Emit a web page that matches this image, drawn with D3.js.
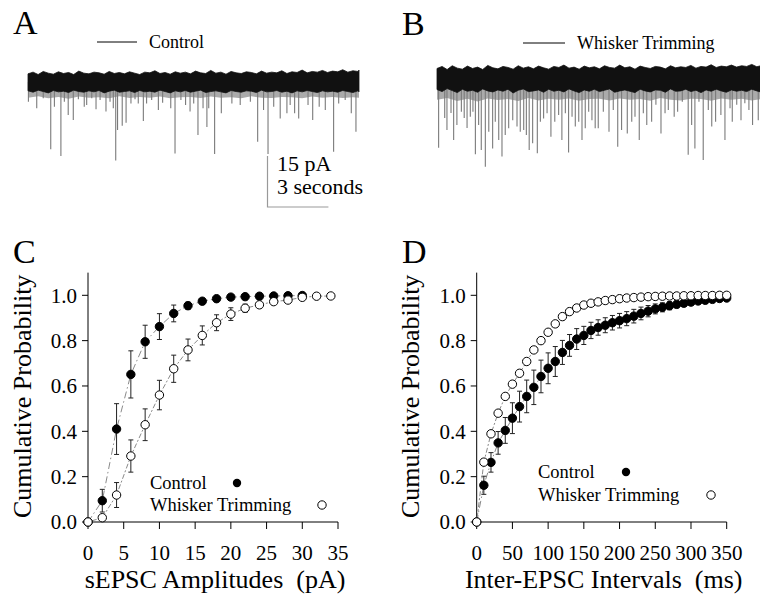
<!DOCTYPE html>
<html><head><meta charset="utf-8">
<script src="https://cdn.jsdelivr.net/npm/d3@7"></script>
<style>
body{margin:0;background:#fff}
text{font-family:"Liberation Serif","Times New Roman",serif;fill:#000}
</style>
</head><body><svg id="chart" width="760" height="601"></svg>
<script>
// ---------- Panel A / B : current traces (time s, current pA) ----------
const envDt = 0.25; // envelope sampling interval (s)
const envTopA = [2.4,2.9,2.2,3.1,2.6,2.3,3.0,2.5,2.8,2.2,3.2,2.6,2.4,2.9,2.7,2.3,3.1,2.5,2.8,2.4,3.0,2.6,2.2,2.9,2.7,3.3,2.5,2.8,2.3,3.0,2.6,2.9,2.4,3.2,2.7,2.5,3.4,2.6,2.9,2.3,3.1,2.7,2.5,3.0,2.8,2.4,3.2,2.6,2.9,2.7,3.3,2.5,3.0,2.8,3.5,2.7,3.1,2.9,3.4,2.8,3.2,3.0,3.6,2.9,3.3,3.1,3.5];
const envLowA = [-2.6,-3.0,-2.4,-2.8,-3.2,-2.5,-2.9,-2.7,-3.1,-2.4,-2.8,-3.0,-2.6,-2.9,-2.5,-3.2,-2.7,-2.4,-3.0,-2.8,-2.6,-3.1,-2.5,-2.9,-2.7,-3.0,-2.4,-2.8,-3.2,-2.6,-2.9,-2.5,-3.0,-2.7,-2.4,-3.1,-2.8,-2.6,-2.9,-3.2,-2.5,-2.8,-3.0,-2.6,-2.7,-3.1,-2.4,-2.9,-2.8,-2.5,-3.0,-2.7,-3.2,-2.6,-2.9,-2.5,-2.8,-3.1,-2.6,-2.9,-2.7,-3.0,-2.5,-2.8,-3.1,-2.6,-2.9];
const envTopB = [2.8,3.4,2.5,3.6,2.9,2.6,3.5,2.8,3.2,2.5,3.7,3.0,2.7,3.4,3.1,2.6,3.6,2.9,3.3,2.7,3.5,3.0,2.6,3.4,3.1,3.8,2.9,3.2,2.6,3.5,3.0,3.3,2.7,3.6,3.1,2.9,3.8,3.0,3.3,2.6,3.5,3.1,2.8,3.4,3.2,2.7,3.6,3.0,3.3,3.1,3.7,2.9,3.4,3.2,3.9,3.1,3.5,3.3,3.8,3.2,3.6,3.4,4.0,3.3,3.7,3.5,3.9];
const envLowB = [-3.4,-4.0,-3.1,-3.7,-4.3,-3.3,-3.9,-3.6,-4.2,-3.2,-3.8,-4.1,-3.5,-3.9,-3.3,-4.4,-3.6,-3.2,-4.0,-3.8,-3.5,-4.2,-3.3,-3.9,-3.6,-4.1,-3.2,-3.8,-4.3,-3.5,-3.9,-3.3,-4.0,-3.6,-3.2,-4.2,-3.8,-3.5,-3.9,-4.3,-3.3,-3.8,-4.1,-3.5,-3.6,-4.2,-3.2,-3.9,-3.8,-3.3,-4.0,-3.6,-4.3,-3.5,-3.9,-3.3,-3.8,-4.2,-3.5,-3.9,-3.6,-4.0,-3.3,-3.8,-4.2,-3.5,-3.9];
const fringeDt = 0.5;
const envFringeA = [-4.6,-4.2,-4.8,-4.4,-4.9,-4.3,-4.6,-4.5,-4.8,-4.2,-4.7,-4.4,-4.6,-4.3,-4.8,-4.5,-4.4,-4.7,-4.3,-4.6,-4.5,-4.8,-4.2,-4.6,-4.7,-4.4,-4.5,-4.8,-4.3,-4.6,-4.4,-4.7,-4.5,-4.6];
const envFringeB = [-6.4,-5.9,-6.8,-6.1,-6.9,-6.0,-6.5,-6.2,-6.8,-5.9,-6.6,-6.1,-6.4,-6.0,-6.7,-6.2,-6.1,-6.6,-6.0,-6.4,-6.2,-6.7,-5.9,-6.4,-6.6,-6.1,-6.2,-6.7,-6.0,-6.4,-6.1,-6.6,-6.2,-6.4];

const spikeTA = [0.02,0.43,0.75,1.12,1.30,1.62,1.79,1.98,2.23,2.48,2.77,2.89,3.14,3.35,3.55,3.84,4.04,4.20,4.32,4.41,4.64,4.83,5.07,5.27,5.43,5.68,5.84,6.09,6.42,6.63,7.03,7.24,7.53,7.76,7.98,8.16,8.37,8.62,8.81,8.90,9.19,9.52,10.04,10.45,10.95,11.31,11.60,11.82,12.10,12.42,12.75,12.91,13.13,13.33,13.79,14.02,14.34,14.64,15.05,15.30,15.62,15.92,16.15];
const spikeAA = [-5.8,-7.7,-4.8,-19.8,-7.3,-21.8,-5.8,-9.7,-11.2,-5.1,-7.3,-6.8,-4.8,-8.0,-5.3,-8.7,-5.8,-7.7,-23.1,-14.1,-12.9,-12.0,-6.3,-5.1,-6.3,-11.5,-6.3,-5.3,-8.2,-6.1,-7.7,-21.0,-5.3,-6.8,-8.7,-6.3,-15.6,-7.7,-13.2,-7.7,-21.2,-9.2,-6.3,-6.8,-5.8,-17.6,-8.2,-21.2,-7.3,-10.7,-9.2,-6.8,-9.2,-10.7,-6.8,-11.2,-7.3,-8.2,-20.5,-6.3,-5.3,-9.2,-14.6];
const spikeTB = [0.08,0.38,0.49,0.69,0.82,0.98,1.20,1.34,1.48,1.64,1.77,1.89,2.05,2.18,2.38,2.55,2.74,2.87,3.04,3.20,3.36,3.53,3.73,3.94,4.10,4.27,4.40,4.54,4.71,4.94,5.09,5.25,5.42,5.61,5.80,5.99,6.15,6.32,6.48,6.65,6.81,6.98,7.14,7.30,7.47,7.63,7.79,7.94,8.19,8.47,8.68,8.90,9.09,9.37,9.59,9.75,9.96,10.16,10.33,10.57,10.78,11.03,11.23,11.39,11.68,11.85,12.08,12.37,12.54,12.70,12.90,13.11,13.36,13.53,13.72,13.98,14.18,14.43,14.54,14.76,14.97,15.16,15.36,15.54,15.82];
const spikeAB = [-20.5,-11.8,-15.3,-10.3,-18.2,-13.8,-9.9,-11.8,-14.7,-11.4,-9.9,-22.4,-13.8,-21.2,-26.1,-15.8,-20.7,-12.9,-18.2,-23.1,-16.8,-14.8,-12.4,-14.3,-15.8,-15.3,-16.8,-21.2,-19.2,-22.1,-12.9,-11.9,-10.4,-17.3,-12.9,-10.9,-18.2,-10.4,-21.9,-11.4,-14.3,-12.9,-18.2,-14.8,-9.9,-12.4,-14.8,-14.8,-9.9,-15.8,-9.4,-20.2,-15.3,-16.3,-12.9,-11.4,-18.2,-10.4,-13.8,-12.9,-7.9,-16.3,-10.4,-9.4,-11.4,-9.9,-7.0,-22.6,-13.8,-20.7,-7.0,-24.1,-9.4,-14.3,-12.9,-10.9,-18.2,-8.9,-12.9,-7.9,-12.4,-7.4,-9.4,-13.8,-12.4];

// ---------- Panel C : sEPSC amplitudes ----------
const ampXTicks = [0,5,10,15,20,25,30,35];
const ampCtrlX = [0,2,4,6,8,10,12,14,16,18,20,22,24,26,28,30];
const ampCtrl  = [0,0.094,0.41,0.651,0.795,0.862,0.92,0.954,0.974,0.985,0.992,0.994,0.996,0.997,0.998,0.999];
const ampCtrlErr = [0,0.05,0.112,0.104,0.073,0.057,0.037,0.016,0.008,0.005,0.004,0.003,0.002,0.002,0.001,0];
const ampWhX = [0,2,4,6,8,10,12,14,16,18,20,22,24,26,28,30,32,34];
const ampWh  = [0,0.019,0.119,0.291,0.429,0.56,0.676,0.759,0.823,0.879,0.917,0.943,0.958,0.972,0.979,0.991,0.996,0.997];
const ampWhErr = [0,0.005,0.055,0.071,0.07,0.065,0.06,0.048,0.042,0.035,0.028,0.018,0.01,0.008,0.005,0.003,0,0];

// ---------- Panel D : inter-EPSC intervals ----------
const intXTicks = [0,50,100,150,200,250,300,350];
const intX = [0,10,20,30,40,50,60,70,80,90,100,110,120,130,140,150,160,170,180,190,200,210,220,230,240,250,260,270,280,290,300,310,320,330,340,350];
const intCtrl = [0,0.162,0.263,0.349,0.404,0.458,0.509,0.554,0.594,0.642,0.678,0.708,0.748,0.779,0.807,0.823,0.845,0.858,0.868,0.879,0.888,0.897,0.908,0.92,0.93,0.94,0.947,0.954,0.96,0.965,0.97,0.975,0.978,0.982,0.986,0.988];
const intCtrlErr = [0,0.04,0.043,0.05,0.057,0.068,0.068,0.072,0.076,0.072,0.068,0.066,0.053,0.048,0.046,0.04,0.036,0.034,0.033,0.032,0.032,0.031,0.03,0.028,0.025,0.022,0.02,0.018,0.015,0.013,0.011,0.01,0.008,0.007,0.006,0.005];
const intWh = [0,0.264,0.389,0.48,0.554,0.608,0.656,0.708,0.759,0.80,0.837,0.874,0.906,0.928,0.944,0.957,0.965,0.971,0.977,0.981,0.985,0.988,0.99,0.992,0.994,0.995,0.996,0.997,0.997,0.998,0.998,0.999,0.999,0.999,1.0,1.0];
const intWhErr = [0,0,0,0,0,0,0,0,0,0,0,0,0,0,0,0,0,0,0,0,0,0,0,0,0,0,0,0,0,0,0,0,0,0,0,0];

const yTicks = [0,0.2,0.4,0.6,0.8,1.0];

const svg = d3.select("#chart");

// ===== Traces =====
function drawTrace(x0, base, top, bot, fringe, sT, sA, legendX0, legendX1, legendY, label) {
  const x = d3.scaleLinear().domain([0, 16.3]).range([x0, x0 + 331]);
  const y = d3.scaleLinear().domain([-30, 5]).range([base + 30*3.4, base - 5*3.4]);
  const g = svg.append("g");
  const fr = fringe.map((v,i)=>({t: Math.min(i*fringeDt, 16.3), v}));
  g.append("path").datum(fr)
    .attr("d", d3.area().x(d=>x(d.t)).y0(d=>y(d.v)).y1(y(-1)))
    .attr("fill", "#666").attr("opacity", 0.55);
  g.selectAll("line.sp").data(sT.map((t,i)=>({t, a: sA[i]}))).enter().append("line")
    .attr("x1", d=>x(d.t)).attr("x2", d=>x(d.t))
    .attr("y1", y(0)).attr("y2", d=>y(d.a))
    .attr("stroke", "#7a7a7a").attr("stroke-width", 1.1);
  const pts = top.map((v,i)=>({t: Math.min(i*envDt, 16.3), top: v, bot: bot[i]}));
  g.append("path").datum(pts)
    .attr("d", d3.area().x(d=>x(d.t)).y0(d=>y(d.bot)).y1(d=>y(d.top)).curve(d3.curveLinear))
    .attr("fill", "#111").attr("stroke", "#111").attr("stroke-width", 0.8);
  g.append("line").attr("x1", legendX0).attr("x2", legendX1).attr("y1", legendY).attr("y2", legendY)
    .attr("stroke", "#000").attr("stroke-width", 1);
  g.append("text").attr("x", legendX1 + 12).attr("y", legendY + 6).attr("font-size", 18).text(label);
  return {x, y};
}
const trA = drawTrace(28, 82, envTopA, envLowA, envFringeA, spikeTA, spikeAA, 97, 137, 42, "Control");
drawTrace(437, 78, envTopB, envLowB, envFringeB, spikeTB, spikeAB, 523, 565, 43, "Whisker Trimming");

// scale bar (15 pA, 3 s) using trace A scales
const sbX = 267.5, sbY = 207;
const sbLenV = trA.y(0) - trA.y(15);
const sbLenH = trA.x(3) - trA.x(0);
svg.append("path").attr("d", `M${sbX},${sbY - sbLenV}V${sbY}H${sbX + sbLenH}`)
  .attr("fill", "none").attr("stroke", "#999").attr("stroke-width", 1.2);
svg.append("text").attr("x", 277).attr("y", 171).attr("font-size", 22).text("15 pA");
svg.append("text").attr("x", 277).attr("y", 194).attr("font-size", 22).text("3 seconds");

// panel letters
[["A",13,34],["B",402,35],["C",13,263],["D",402,263]].forEach(([t,x,y])=>{
  svg.append("text").attr("x", x).attr("y", y).attr("font-size", 34).text(t);
});

// ===== Cumulative plots =====
function drawCum(opt) {
  const x = d3.scaleLinear().domain(opt.xDomain).range([opt.left, opt.left + 250]);
  const y = d3.scaleLinear().domain([0, 1.1]).range([522, 522 - 1.1*226.7]);
  const g = svg.append("g");
  g.append("line").attr("x1", x.range()[0]).attr("x2", x.range()[0]).attr("y1", y(0)).attr("y2", y(1.1)).attr("stroke","#000");
  g.append("line").attr("x1", x.range()[0]).attr("x2", x.range()[1]).attr("y1", y(0)).attr("y2", y(0)).attr("stroke","#000");
  g.selectAll("line.yt").data(yTicks).enter().append("line")
    .attr("x1", x.range()[0] - 6).attr("x2", x.range()[0]).attr("y1", d=>y(d)).attr("y2", d=>y(d)).attr("stroke","#000");
  g.selectAll("line.xt").data(opt.xTicks).enter().append("line")
    .attr("x1", d=>x(d)).attr("x2", d=>x(d)).attr("y1", y(0)).attr("y2", y(0) + 7).attr("stroke","#000");
  g.selectAll("text.yl").data(yTicks).enter().append("text")
    .attr("x", x.range()[0] - 11).attr("y", d=>y(d)).attr("dy", "0.35em").attr("text-anchor","end")
    .attr("font-size", 21).text(d=>d.toFixed(1));
  g.selectAll("text.xl").data(opt.xTicks).enter().append("text")
    .attr("x", d=>x(d)).attr("y", 560).attr("text-anchor","middle")
    .attr("font-size", 21).text(d=>d);
  g.append("text").attr("x", (x.range()[0]+x.range()[1])/2 + 2).attr("y", 588).attr("text-anchor","middle")
    .attr("font-size", 26).style("white-space","pre").text(opt.xTitle);
  g.append("text").attr("transform", `translate(${opt.yTitleX},${(y(0)+y(1.1))/2 - 1}) rotate(-90)`)
    .attr("text-anchor","middle").attr("font-size", 26).text("Cumulative Probability");

  const series = [
    {xs: opt.ctrlX, ys: opt.ctrl, err: opt.ctrlErr, fill: "#000", dash: "7,3,1.5,3"},
    {xs: opt.whX, ys: opt.wh, err: opt.whErr, fill: "#fff", dash: "2,2,5,2"}
  ];
  series.forEach(s=>{
    const pts = s.xs.map((v,i)=>({x: v, y: s.ys[i], e: s.err[i]}));
    g.append("path").datum(pts).attr("d", d3.line().x(d=>x(d.x)).y(d=>y(d.y)))
      .attr("fill","none").attr("stroke","#8a8a8a").attr("stroke-width",1).attr("stroke-dasharray", s.dash);
    const eb = pts.filter(d=>d.e > 0.006);
    g.selectAll(null).data(eb).enter().append("path")
      .attr("d", d=>`M${x(d.x)},${y(d.y+d.e)}V${y(d.y-d.e)}M${x(d.x)-2.5},${y(d.y+d.e)}H${x(d.x)+2.5}M${x(d.x)-2.5},${y(d.y-d.e)}H${x(d.x)+2.5}`)
      .attr("stroke","#222").attr("stroke-width",1).attr("fill","none");
  });
  series.forEach(s=>{
    const pts = s.xs.map((v,i)=>({x: v, y: s.ys[i]}));
    g.selectAll(null).data(pts).enter().append("circle")
      .attr("cx", d=>x(d.x)).attr("cy", d=>y(d.y)).attr("r", 4.2)
      .attr("fill", s.fill).attr("stroke","#000").attr("stroke-width",1);
  });
  const L = opt.legend;
  g.append("text").attr("x", L.x).attr("y", L.y + 6).attr("font-size", 18.5).text("Control");
  g.append("circle").attr("cx", L.dot1).attr("cy", L.y).attr("r", 4.2).attr("fill","#000");
  g.append("text").attr("x", L.x).attr("y", L.y2 + 6).attr("font-size", 18.5).text("Whisker Trimming");
  g.append("circle").attr("cx", L.dot2).attr("cy", L.y2).attr("r", 4.2).attr("fill","#fff").attr("stroke","#000");
}

drawCum({
  xDomain: [0,35], left: 88, xTicks: ampXTicks, xTitle: "sEPSC Amplitudes  (pA)", yTitleX: 31,
  ctrlX: ampCtrlX, ctrl: ampCtrl, ctrlErr: ampCtrlErr, whX: ampWhX, wh: ampWh, whErr: ampWhErr,
  legend: {x: 150, y: 483, y2: 505, dot1: 237, dot2: 322}
});
drawCum({
  xDomain: [0,350], left: 476.7, xTicks: intXTicks, xTitle: "Inter-EPSC Intervals  (ms)", yTitleX: 419,
  ctrlX: intX, ctrl: intCtrl, ctrlErr: intCtrlErr, whX: intX, wh: intWh, whErr: intWhErr,
  legend: {x: 538, y: 472, y2: 495, dot1: 626, dot2: 711}
});
</script>
</body></html>
